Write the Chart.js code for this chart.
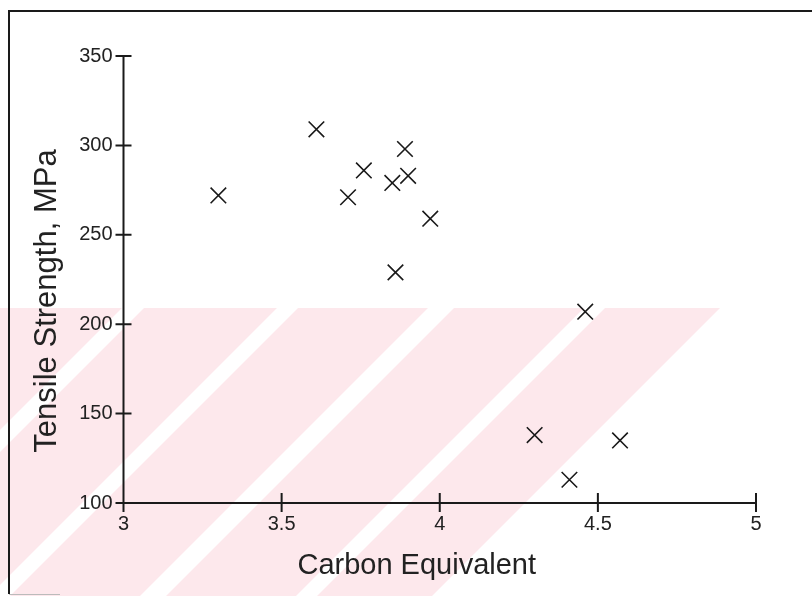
<!DOCTYPE html>
<html>
<head>
<meta charset="utf-8">
<title>Tensile Strength vs Carbon Equivalent</title>
<script src="https://cdn.jsdelivr.net/npm/chart.js@4.4.0/dist/chart.umd.min.js"></script>
<style>
  html, body { margin: 0; padding: 0; background: #fff; }
  canvas { display: block; }
</style>
</head>
<body>
<canvas id="tensileChart" width="812" height="596"></canvas>
<script>
// values
const carbonEquivalent = [3.30, 3.61, 3.71, 3.76, 3.85, 3.89, 3.90, 3.86, 3.97, 4.46, 4.30, 4.41, 4.57];
const tensileStrength  = [272, 309, 271, 286, 279, 298, 283, 229, 259, 207, 138, 113, 135];

const xTicks = [3, 3.5, 4, 4.5, 5];
const xTickLabels = ['3', '3.5', '4', '4.5', '5'];
const yTicks = [100, 150, 200, 250, 300, 350];
const yTickLabels = ['100', '150', '200', '250', '300', '350'];

const ink = '#1a1a1a';
const pink = '#fde8ec';

// faint pink diagonal watermark behind the plot
const watermark = {
  id: 'watermark',
  beforeDraw: chart => {
    const { ctx, width, height } = chart;
    ctx.save();
    ctx.fillStyle = '#fff';
    ctx.fillRect(0, 0, width, height);
    ctx.beginPath();
    ctx.moveTo(0, 308);
    ctx.lineTo(720, 308);
    ctx.lineTo(720 - (height - 308), height);
    ctx.lineTo(0, height);
    ctx.closePath();
    ctx.clip();
    ctx.fillStyle = pink;
    ctx.fillRect(0, 308, width, height - 308);
    // white gaps running bottom-left to top-right
    ctx.fillStyle = '#fff';
    [[430, 452], [585, 606], [736, 762], [892, 913]].forEach(([c1, c2]) => {
      ctx.beginPath();
      ctx.moveTo(c1 - 300, 300);
      ctx.lineTo(c2 - 300, 300);
      ctx.lineTo(c2 - 600, 600);
      ctx.lineTo(c1 - 600, 600);
      ctx.closePath();
      ctx.fill();
    });
    ctx.restore();
  }
};

// frame, axes and crossing tick marks
const axesDrawer = {
  id: 'axesDrawer',
  afterDraw: chart => {
    const { ctx, chartArea: { left, right, top, bottom }, scales: { x, y } } = chart;
    ctx.save();
    ctx.strokeStyle = ink;
    ctx.lineWidth = 2;

    // scan frame
    ctx.beginPath();
    ctx.moveTo(812, 11);
    ctx.lineTo(9, 11);
    ctx.lineTo(9, 594);
    ctx.stroke();
    ctx.strokeStyle = '#bbb';
    ctx.lineWidth = 1;
    ctx.beginPath();
    ctx.moveTo(9, 594.5);
    ctx.lineTo(60, 594.5);
    ctx.stroke();

    ctx.strokeStyle = ink;
    ctx.lineWidth = 2;
    ctx.beginPath();
    ctx.moveTo(left, top);
    ctx.lineTo(left, bottom);
    ctx.moveTo(left, bottom);
    ctx.lineTo(right, bottom);
    yTicks.forEach(v => {
      const py = y.getPixelForValue(v);
      ctx.moveTo(left - 8, py);
      ctx.lineTo(left + 8, py);
    });
    xTicks.forEach(v => {
      const px = x.getPixelForValue(v);
      ctx.moveTo(px, bottom - 10);
      ctx.lineTo(px, bottom + 9);
    });
    ctx.stroke();

    // axis titles
    ctx.fillStyle = '#222';
    ctx.textAlign = 'center';
    ctx.textBaseline = 'middle';
    ctx.font = '29px "Liberation Sans", Arial, sans-serif';
    ctx.fillText('Carbon Equivalent', (left + right) / 2 - 23, 566);
    ctx.font = '31px "Liberation Sans", Arial, sans-serif';
    ctx.translate(47, 301);
    ctx.rotate(-Math.PI / 2);
    ctx.fillText('Tensile Strength, MPa', 0, 0);
    ctx.restore();
  }
};

const tickFont = { family: '"Liberation Sans", Arial, sans-serif', size: 20 };

new Chart(document.getElementById('tensileChart'), {
  type: 'scatter',
  data: {
    datasets: [{
      data: carbonEquivalent.map((ce, i) => ({ x: ce, y: tensileStrength[i] })),
      pointStyle: 'crossRot',
      pointRadius: 11,
      pointHoverRadius: 11,
      borderColor: ink,
      backgroundColor: ink,
      borderWidth: 1.6
    }]
  },
  options: {
    responsive: false,
    animation: false,
    layout: { padding: { top: 56, right: 56, bottom: 0, left: 0 } },
    plugins: {
      legend: { display: false },
      tooltip: { enabled: false }
    },
    scales: {
      x: {
        type: 'linear',
        min: 3,
        max: 5,
        afterBuildTicks: s => { s.ticks = xTicks.map(v => ({ value: v })); },
        afterFit: s => { s.height = 93; },
        grid: { display: false, drawTicks: false },
        border: { display: false },
        ticks: {
          color: '#222',
          font: tickFont,
          padding: 9,
          maxRotation: 0,
          callback: (v, i) => xTickLabels[i]
        }
      },
      y: {
        type: 'linear',
        min: 100,
        max: 350,
        afterBuildTicks: s => { s.ticks = yTicks.map(v => ({ value: v })); },
        afterFit: s => { s.width = 123.5; },
        grid: { display: false, drawTicks: false },
        border: { display: false },
        ticks: {
          color: '#222',
          font: tickFont,
          padding: 11,
          callback: (v, i) => yTickLabels[i]
        }
      }
    }
  },
  plugins: [watermark, axesDrawer]
});
</script>
</body>
</html>
